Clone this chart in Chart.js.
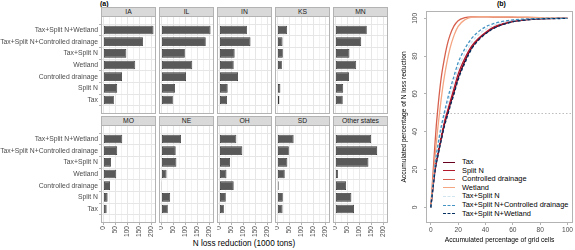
<!DOCTYPE html>
<html>
<head>
<meta charset="utf-8">
<script src="https://cdn.jsdelivr.net/npm/chart.js@4.4.1/dist/chart.umd.min.js"></script>
<style>
  body { margin: 0; width: 575px; height: 250px; position: relative; overflow: hidden; background: #fff;
         font-family: "Liberation Sans", Arial, sans-serif; }
  canvas { position: absolute; }
  .tag { position: absolute; font-size: 7px; font-weight: bold; color: #000; }
  .strip { position: absolute; box-sizing: border-box; background: #d9d9d9; border: 1px solid #b3b3b3;
           font-size: 6.8px; line-height: 8px; color: #1a1a1a; text-align: center; }
  .xtitle { position: absolute; font-size: 8.2px; color: #000; text-align: center; }
  .legend { position: absolute; left: 443px; top: 158px; font-size: 7.4px; color: #000; }
  .legend-row { height: 8.6px; line-height: 8.6px; white-space: nowrap; }
  .legend-swatch { display: inline-block; width: 12px; margin-right: 7px; vertical-align: middle; }
</style>
</head>
<body>
<div class="tag" style="left:100px;top:0px">(a)</div>
<div class="tag" style="left:497px;top:0px">(b)</div>
<div class="xtitle" style="left:144px;width:200px;top:239px">N loss reduction (1000 tons)</div>
<div class="legend" id="legend"></div>
<script>
// ---- (a) N loss reduction by state and measure ----
const STATES = ['IA', 'IL', 'IN', 'KS', 'MN', 'MO', 'NE', 'OH', 'SD', 'Other states']
const MEASURES = ['Tax+Split N+Wetland', 'Tax+Split N+Controlled drainage', 'Tax+Split N',
  'Wetland', 'Controlled drainage', 'Split N', 'Tax']

// 1000 tons, same order as MEASURES
const IA = [208, 164, 95, 132, 77, 57, 43]
const IL = [204, 184, 97, 128, 102, 56, 47]
const IN = [114, 129, 63, 59, 77, 34, 31]
const KS = [40, 21, 22, 18, 0, 12, 8]
const MN = [130, 107, 58, 86, 56, 32, 30]
const MO = [78, 57, 31, 53, 27, 17, 13]
const NE = [81, 59, 62, 21, 1, 36, 26]
const OH = [70, 95, 44, 29, 59, 26, 18]
const SD = [67, 47, 41, 30, 5, 22, 21]
const OTHER = [148, 173, 137, 10, 44, 66, 77]
const REDUCTION = [IA, IL, IN, KS, MN, MO, NE, OH, SD, OTHER]

const X_TICKS = [0, 50, 100, 150, 200]

// ---- (b) accumulated curves ----
const CELLS = [0, 1, 2, 3, 4, 5, 6, 8, 10, 12, 14, 17, 20, 25, 30, 35, 40, 45, 50, 60, 70, 80, 100]
const TAX_CUM = [0, 6.5, 13, 19, 23.5, 27, 30.5, 37.5, 44, 49, 54, 61, 68.5, 77.5, 84.5, 89, 92, 94.5, 96.2, 98.3, 99.3, 99.8, 100]
const SPLITN_CUM = [0, 7, 14, 20, 24.5, 28, 32, 39, 45.5, 50.5, 55.5, 63, 70.5, 79, 85.5, 89.5, 92.5, 95, 96.5, 98.5, 99.4, 99.8, 100]
const CD_CUM = [0, 11, 22, 33, 43, 51, 58.5, 70.5, 79, 86, 91, 96, 98.8, 100.4, 100.8, 100.8, 100.8, 100.7, 100.7, 100.6, 100.5, 100.3, 100]
const WETLAND_CUM = [0, 8, 17, 26, 34, 41, 47.5, 59.5, 69.5, 77.5, 84, 91, 95.8, 99.3, 100.7, 100.9, 100.9, 100.8, 100.8, 100.7, 100.6, 100.4, 100]
const TS_CUM = [0, 7, 14.5, 21, 26, 30, 34, 41.5, 48, 54, 59, 66.5, 73.5, 81.5, 87.5, 91.5, 94.2, 96, 97.3, 98.9, 99.6, 99.9, 100]
const TSCD_CUM = [0, 7.5, 15, 22, 27.5, 32, 36.5, 44, 50.5, 56.5, 62, 69.5, 76.5, 84, 89.5, 93, 95.5, 97, 98, 99.2, 99.7, 99.9, 100]
const TSW_CUM = [0, 6.3, 12.5, 18.5, 23, 26.5, 30, 36.5, 43, 48, 53, 60, 67.5, 76.5, 84, 88.5, 91.8, 94.3, 96, 98.2, 99.2, 99.7, 100]
const PCT_TICKS = [0, 20, 40, 60, 80, 100]
const REF_LEVEL = 50

const CURVES = [
  { label: 'Tax', values: TAX_CUM, color: '#67001f', dash: [] },
  { label: 'Split N', values: SPLITN_CUM, color: '#b2182b', dash: [] },
  { label: 'Controlled drainage', values: CD_CUM, color: '#d6604d', dash: [] },
  { label: 'Wetland', values: WETLAND_CUM, color: '#f4a582', dash: [] },
  { label: 'Tax+Split N', values: TS_CUM, color: '#d1e5f0', dash: [3, 2] },
  { label: 'Tax+Split N+Controlled drainage', values: TSCD_CUM, color: '#4393c3', dash: [3, 2] },
  { label: 'Tax+Split N+Wetland', values: TSW_CUM, color: '#053061', dash: [3, 2] },
]

// layout of the facet grid
const PANEL_X = [101, 159, 217, 275, 333]
const PANEL_W = 55
const ROW_Y = [16, 125]
const PANEL_H = 98
const STRIP_H = 9
const AXIS_W = 101
const AXIS_H = 28

const TEXT_GREY = '#4d4d4d'
const PANEL_LINE = '#b3b3b3'
const GRID_MAJOR = '#e6e6e6'
const GRID_MINOR = '#f2f2f2'

Chart.defaults.font.family = '"Liberation Sans", Arial, sans-serif'

// box round the plotting area, like a ggplot panel border
const panelBorder = {
  id: 'panelBorder',
  afterDraw(chart, _args, opts) {
    const { ctx, chartArea: a } = chart
    ctx.save()
    ctx.strokeStyle = opts.color
    ctx.lineWidth = 1
    ctx.strokeRect(a.left + 0.5, a.top + 0.5, a.width - 1, a.height - 1)
    ctx.restore()
  }
}

const refLine = {
  id: 'refLine',
  beforeDatasetsDraw(chart, _args, opts) {
    const { ctx, chartArea: a, scales: { y } } = chart
    const py = Math.round(y.getPixelForValue(opts.value)) + 0.5
    ctx.save()
    ctx.strokeStyle = opts.color
    ctx.lineWidth = 1
    ctx.setLineDash([1.5, 2])
    ctx.beginPath()
    ctx.moveTo(a.left, py)
    ctx.lineTo(a.right, py)
    ctx.stroke()
    ctx.restore()
  }
}

function makeCanvas(left, top, w, h) {
  const canvas = document.createElement('canvas')
  canvas.width = w
  canvas.height = h
  Object.assign(canvas.style, { left: left + 'px', top: top + 'px', width: w + 'px', height: h + 'px' })
  document.body.appendChild(canvas)
  return canvas
}

function facetChart(idx) {
  const col = idx % 5
  const row = Math.floor(idx / 5)
  const first = col === 0
  const last = row === 1
  const left = PANEL_X[col] - (first ? AXIS_W : 0)
  const w = PANEL_W + (first ? AXIS_W : 0)
  const h = PANEL_H + (last ? AXIS_H : 0)
  const canvas = makeCanvas(left, ROW_Y[row], w, h)

  const strip = document.createElement('div')
  strip.className = 'strip'
  strip.textContent = STATES[idx]
  Object.assign(strip.style, {
    left: PANEL_X[col] + 'px', top: (ROW_Y[row] - STRIP_H) + 'px',
    width: PANEL_W + 'px', height: (STRIP_H + 1) + 'px'
  })
  document.body.appendChild(strip)

  const xGrid = []
  X_TICKS.forEach((t, i) => {
    xGrid.push(t)
    if (i < X_TICKS.length - 1) xGrid.push((t + X_TICKS[i + 1]) / 2)
  })
  const isMajor = ctx => ctx.tick && X_TICKS.includes(ctx.tick.value)

  new Chart(canvas, {
    type: 'bar',
    data: {
      datasets: [{
        data: REDUCTION[idx].map((v, i) => ({ x: v, y: i })),
        backgroundColor: '#595959',
        borderColor: '#333333',
        borderWidth: 0.8,
        borderSkipped: false,
        barPercentage: 0.74,
        categoryPercentage: 1
      }]
    },
    options: {
      indexAxis: 'y',
      responsive: false,
      animation: false,
      layout: { padding: 0 },
      plugins: {
        legend: { display: false },
        tooltip: { enabled: false },
        panelBorder: { color: PANEL_LINE }
      },
      scales: {
        x: {
          type: 'linear',
          min: -10.4,
          max: 218.4,
          afterBuildTicks: s => { s.ticks = xGrid.map(value => ({ value })) },
          afterFit: s => { s.height = last ? AXIS_H : 0; s.paddingLeft = 0; s.paddingRight = 0 },
          border: { display: false },
          grid: {
            color: ctx => isMajor(ctx) ? GRID_MAJOR : GRID_MINOR,
            drawTicks: last,
            tickLength: 2,
            tickColor: ctx => isMajor(ctx) ? PANEL_LINE : 'rgba(0,0,0,0)'
          },
          ticks: {
            display: last,
            autoSkip: false,
            minRotation: 90,
            maxRotation: 90,
            padding: 1,
            color: TEXT_GREY,
            font: { size: 6.6 },
            callback: v => X_TICKS.includes(v) ? String(v) : ''
          }
        },
        y: {
          type: 'linear',
          reverse: true,
          min: -0.6,
          max: MEASURES.length - 0.4,
          afterBuildTicks: s => { s.ticks = MEASURES.map((_, value) => ({ value })) },
          afterFit: s => { s.width = first ? AXIS_W : 0; s.paddingTop = 0; s.paddingBottom = 0 },
          border: { display: false },
          grid: { color: GRID_MAJOR, drawTicks: first, tickLength: 2, tickColor: PANEL_LINE },
          ticks: {
            display: first,
            autoSkip: false,
            padding: 1,
            color: TEXT_GREY,
            font: { size: 6.8 },
            callback: v => MEASURES[v]
          }
        }
      }
    },
    plugins: [panelBorder]
  })
}

STATES.forEach((_, i) => facetChart(i))

// ---- panel (b) ----
const curveCanvas = makeCanvas(395, 0, 180, 250)
new Chart(curveCanvas, {
  type: 'line',
  data: {
    datasets: CURVES.map((c, i) => ({
      label: c.label,
      data: CELLS.map((x, k) => ({ x, y: c.values[k] })),
      borderColor: c.color,
      borderDash: c.dash,
      borderWidth: 1.3,
      pointRadius: 0,
      fill: false,
      cubicInterpolationMode: 'monotone',
      order: CURVES.length - i // later series drawn on top, as in ggplot
    }))
  },
  options: {
    responsive: false,
    animation: false,
    layout: { padding: { top: 11, right: 2, left: 0, bottom: 0 } },
    plugins: {
      legend: { display: false },
      tooltip: { enabled: false },
      panelBorder: { color: PANEL_LINE },
      refLine: { value: REF_LEVEL, color: '#bdbdbd' }
    },
    scales: {
      x: {
        type: 'linear',
        min: -3.5,
        max: 104,
        afterBuildTicks: s => { s.ticks = PCT_TICKS.map(value => ({ value })) },
        afterFit: s => { s.height = 27; s.paddingLeft = 0; s.paddingRight = 0 },
        border: { display: false },
        grid: { color: 'rgba(0,0,0,0)', tickLength: 2, tickColor: PANEL_LINE },
        ticks: { color: TEXT_GREY, font: { size: 6.6 }, padding: 1, maxRotation: 0 },
        title: {
          display: true, text: 'Accumulated percentage of grid cells',
          color: '#000', font: { size: 6.7 }, padding: { top: 0, bottom: 6 }
        }
      },
      y: {
        type: 'linear',
        min: -8.3,
        max: 103.9,
        afterBuildTicks: s => { s.ticks = PCT_TICKS.map(value => ({ value })) },
        afterFit: s => { s.width = 31; s.paddingTop = 0; s.paddingBottom = 0 },
        border: { display: false },
        grid: { color: 'rgba(0,0,0,0)', tickLength: 2, tickColor: PANEL_LINE },
        ticks: { color: TEXT_GREY, font: { size: 6.6 }, padding: 3, minRotation: 90, maxRotation: 90, crossAlign: 'center' },
        title: {
          display: true, text: 'Accumulated percentage of N loss reduction',
          color: '#000', font: { size: 6.7 }, padding: { top: 5, bottom: 0 }
        }
      }
    }
  },
  plugins: [panelBorder, refLine]
})

// legend drawn in HTML inside the plot, bottom-left
const legend = document.getElementById('legend')
CURVES.forEach(c => {
  const row = document.createElement('div')
  row.className = 'legend-row'
  const sw = document.createElement('span')
  sw.className = 'legend-swatch'
  sw.style.borderTop = `1.4px ${c.dash.length ? 'dashed' : 'solid'} ${c.color}`
  const label = document.createElement('span')
  label.textContent = c.label
  row.append(sw, label)
  legend.appendChild(row)
})
</script>
</body>
</html>
